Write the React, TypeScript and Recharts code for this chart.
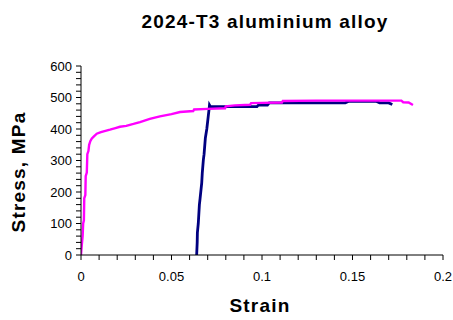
import React from 'react';
import { LineChart, Line, XAxis, YAxis } from 'recharts';

// magenta curve: full tensile test (strain, stress MPa)
const magentaStrain = [
  0, 0.0004, 0.0009, 0.0012, 0.0016, 0.0018, 0.0024, 0.0026, 0.0032, 0.0035,
  0.0041, 0.0045, 0.0052, 0.006, 0.007, 0.0087, 0.011, 0.014, 0.016, 0.019,
  0.0215, 0.025, 0.029, 0.0326, 0.038, 0.0436, 0.05, 0.0547, 0.062, 0.0625,
  0.07, 0.0796, 0.08, 0.085, 0.0934, 0.094, 0.1, 0.111, 0.1115, 0.13,
  0.15, 0.177, 0.178, 0.181, 0.1834,
];
const magentaStress = [
  0, 30, 60, 100, 110, 180, 190, 250, 262, 320,
  330, 350, 362, 370, 376, 385, 390, 395, 398, 403,
  407, 410, 416, 422, 432, 440, 447, 454, 457, 462,
  464, 466, 472, 475, 477, 482, 483, 484, 489, 490,
  490, 490, 485, 484, 476,
];

// navy curve: reloaded specimen
const navyStrain = [
  0.0639, 0.0642, 0.0643, 0.0648, 0.0654, 0.0658, 0.0667, 0.067, 0.0676, 0.068,
  0.0687, 0.0695, 0.0703, 0.0709, 0.071, 0.0715, 0.08, 0.09, 0.0972, 0.098,
  0.103, 0.104, 0.12, 0.146, 0.148, 0.163, 0.165, 0.17, 0.172,
];
const navyStress = [
  0, 40, 70, 100, 159, 180, 229, 260, 302, 320,
  371, 400, 440, 470, 476, 471, 471, 471, 471, 476,
  476, 483, 483, 483, 488, 488, 483, 483, 478,
];

const xTicks = [
  0, 0.01, 0.02, 0.03, 0.04, 0.05, 0.06, 0.07, 0.08, 0.09, 0.1,
  0.11, 0.12, 0.13, 0.14, 0.15, 0.16, 0.17, 0.18, 0.19, 0.2,
];
const xLabels: Record<string, string> = { '0': '0', '0.05': '0.05', '0.1': '0.1', '0.15': '0.15', '0.2': '0.2' };
const yTicks = [
  0, 20, 40, 60, 80, 100, 120, 140, 160, 180, 200, 220, 240, 260, 280, 300,
  320, 340, 360, 380, 400, 420, 440, 460, 480, 500, 520, 540, 560, 580, 600,
];

const magentaData = magentaStrain.map((s, i) => ({ strain: s, stress: magentaStress[i] }));
const navyData = navyStrain.map((s, i) => ({ strain: s, stress: navyStress[i] }));

const font = 'Liberation Sans, Arial, sans-serif';
const tickStyle = { fill: '#000', fontSize: 13, fontFamily: font };

export default function App() {
  return (
    <div style={{ position: 'absolute', left: 0, top: 0, width: 453, height: 320, background: '#fff' }}>
      <LineChart width={453} height={320} margin={{ top: 66, right: 10, left: 0, bottom: 0 }}>
        <XAxis
          type="number"
          dataKey="strain"
          domain={[0, 0.2]}
          ticks={xTicks}
          interval={0}
          tickFormatter={(v: number) => xLabels[String(+v.toFixed(2))] ?? ''}
          height={65}
          tickSize={5}
          tickMargin={12}
          stroke="#000"
          tick={tickStyle}
          allowDataOverflow
        />
        <YAxis
          type="number"
          dataKey="stress"
          domain={[0, 600]}
          ticks={yTicks}
          interval={0}
          tickFormatter={(v: number) => (v % 100 === 0 ? String(v) : '')}
          width={81}
          tickSize={5}
          tickMargin={4}
          stroke="#000"
          tick={tickStyle}
        />
        <Line data={navyData} dataKey="stress" stroke="#000080" strokeWidth={2.8} dot={false} isAnimationActive={false} />
        <Line data={magentaData} dataKey="stress" stroke="#FF00FF" strokeWidth={2.4} dot={false} isAnimationActive={false} />
      </LineChart>
      <svg width={453} height={320} style={{ position: 'absolute', left: 0, top: 0, pointerEvents: 'none' }}>
        <text x={265} y={28} textAnchor="middle" fontFamily={font} fontWeight="bold" fontSize={19} letterSpacing={1.2}>
          2024-T3 aluminium alloy
        </text>
        <text x={260} y={312} textAnchor="middle" fontFamily={font} fontWeight="bold" fontSize={19} letterSpacing={1.2}>
          Strain
        </text>
        <text
          x={25}
          y={172}
          textAnchor="middle"
          fontFamily={font}
          fontWeight="bold"
          fontSize={19}
          letterSpacing={1.2}
          transform="rotate(-90, 25, 172)"
        >
          Stress, MPa
        </text>
      </svg>
    </div>
  );
}
